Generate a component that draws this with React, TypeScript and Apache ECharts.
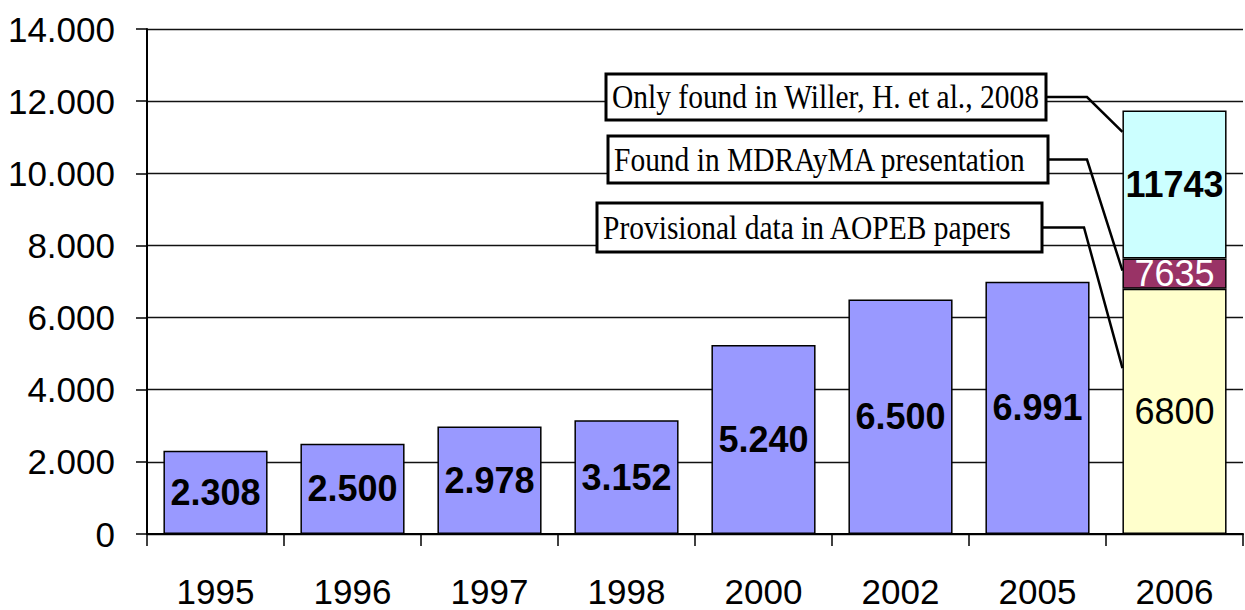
import React, { useEffect, useRef } from "react";
import * as echarts from "echarts";

const years = ["1995", "1996", "1997", "1998", "2000", "2002", "2005", "2006"];
const mainValues = [2308, 2500, 2978, 3152, 5240, 6500, 6991];
// 2006 cumulative totals by source
const provisional2006 = 6800;
const mdrayma2006 = 7635;
const willer2006 = 11743;
const yTicks = [0, 2000, 4000, 6000, 8000, 10000, 12000, 14000];

const notes = [
  { text: "Only found in Willer, H. et al., 2008", box: [606, 74, 440, 46], elbow: 1087, anchor: 11150 },
  { text: "Found in MDRAyMA presentation", box: [608, 136, 440, 47], elbow: 1087, anchor: 7300 },
  { text: "Provisional data in AOPEB papers", box: [597, 203, 445, 49], elbow: 1084, anchor: 4600 },
];

const dotFmt = (v: number) =>
  v < 1000 ? String(v) : Math.floor(v / 1000) + "." + String(v % 1000).padStart(3, "0");

export default function App() {
  const ref = useRef<HTMLDivElement>(null);
  useEffect(() => {
    if (!ref.current) return;
    const chart = echarts.init(ref.current, undefined, { renderer: "svg" });
    const n = years.length;
    const pad = (arr: (number | string)[]) => arr;
    const main = pad([...mainValues, "-"]);
    const seg1 = pad([...Array(n - 1).fill("-"), provisional2006]);
    const seg2 = pad([...Array(n - 1).fill("-"), mdrayma2006 - provisional2006]);
    const seg3 = pad([...Array(n - 1).fill("-"), willer2006 - mdrayma2006]);
    const font = "Liberation Sans, Arial, sans-serif";
    const border = { borderColor: "#000", borderWidth: 1.5 };
    const option: any = {
      animation: false,
      backgroundColor: "#fff",
      grid: { left: 147, right: 2, top: 29, bottom: 76 },
      xAxis: {
        type: "category",
        data: years,
        axisLine: { lineStyle: { color: "#000", width: 2 } },
        axisTick: { show: true, length: 12, lineStyle: { color: "#000", width: 1.5 } },
        axisLabel: { color: "#000", fontSize: 35, fontFamily: font, margin: 40 },
      },
      yAxis: {
        type: "value",
        min: 0,
        max: 14000,
        interval: 2000,
        axisLine: { show: true, lineStyle: { color: "#000", width: 2 } },
        axisTick: { show: true, length: 11, lineStyle: { color: "#000", width: 1.5 } },
        axisLabel: {
          color: "#000",
          fontSize: 35,
          fontFamily: font,
          margin: 32,
          formatter: (v: number) => (yTicks.includes(v) ? dotFmt(v) : ""),
        },
        splitLine: { show: true, lineStyle: { color: "#111", width: 1.3 } },
      },
      series: [
        {
          type: "bar",
          stack: "a",
          data: main,
          barWidth: "76%",
          itemStyle: { color: "#9999FF", ...border },
          label: {
            show: true,
            position: "inside",
            color: "#000",
            fontSize: 36,
            fontWeight: "bold",
            fontFamily: font,
            formatter: (p: any) => dotFmt(p.value),
          },
        },
        {
          type: "bar",
          stack: "a",
          data: seg1,
          itemStyle: { color: "#FFFFCC", ...border },
          label: {
            show: true,
            position: "inside",
            color: "#000",
            fontSize: 36,
            fontFamily: font,
            formatter: () => String(provisional2006),
          },
        },
        {
          type: "bar",
          stack: "a",
          data: seg2,
          itemStyle: { color: "#993366", ...border },
          label: {
            show: true,
            position: "inside",
            color: "#fff",
            fontSize: 36,
            fontFamily: font,
            formatter: () => String(mdrayma2006),
          },
        },
        {
          type: "bar",
          stack: "a",
          data: seg3,
          itemStyle: { color: "#CCFFFF", ...border },
          label: {
            show: true,
            position: "inside",
            color: "#000",
            fontSize: 36,
            fontWeight: "bold",
            fontFamily: font,
            formatter: () => String(willer2006),
          },
        },
      ],
    };
    chart.setOption(option);

    const p0 = chart.convertToPixel({ gridIndex: 0 }, [0, 0]) as number[];
    const p1 = chart.convertToPixel({ gridIndex: 0 }, [1, 0]) as number[];
    const band = p1[0] - p0[0];
    const graphics: any[] = [];
    notes.forEach((nt) => {
      const [bx, by, bw, bh] = nt.box;
      const c = chart.convertToPixel({ gridIndex: 0 }, [n - 1, nt.anchor]) as number[];
      const barLeft = c[0] - (band * 0.76) / 2;
      const midY = by + bh / 2;
      graphics.push({
        type: "polyline",
        shape: { points: [[bx + bw, midY], [nt.elbow, midY], [barLeft, c[1]]] },
        style: { stroke: "#000", lineWidth: 2.5, fill: null },
        z: 100,
      });
      graphics.push({
        type: "rect",
        shape: { x: bx, y: by, width: bw, height: bh },
        style: { fill: "#fff", stroke: "#000", lineWidth: 3 },
        z: 100,
      });
      graphics.push({
        type: "text",
        x: bx + 6,
        y: midY,
        scaleY: 1.15,
        style: {
          text: nt.text,
          fontSize: 29.5,
          fontFamily: "Liberation Serif, Times New Roman, serif",
          fill: "#000",
          verticalAlign: "middle",
          align: "left",
        },
        z: 101,
      });
    });
    chart.setOption({ graphic: graphics });
    return () => chart.dispose();
  }, []);
  return (
    <div
      ref={ref}
      style={{ position: "fixed", left: 0, top: 0, width: 1245, height: 610 }}
    />
  );
}
